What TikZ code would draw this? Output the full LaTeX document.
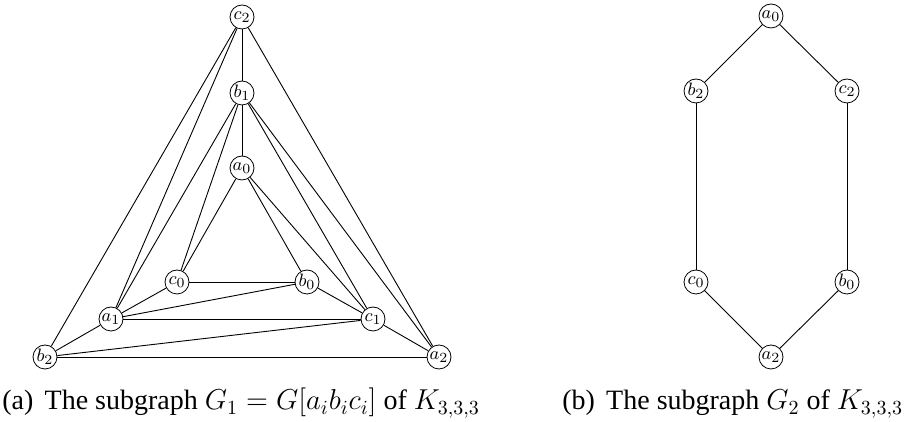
\documentclass[tikz,border=0pt]{standalone}
\usepackage{fontspec}
\setmainfont{Liberation Serif}
\usepackage{tikz}
\usetikzlibrary{positioning}

\begin{document}
\begin{tikzpicture}[x=0.5pt, y=0.5pt,
    vertex/.style={
        circle, draw=black, minimum size=12pt, inner sep=0pt,
        font=\fontsize{9.5}{11}\selectfont,
    },
    edge/.style={black, line width=0.45pt},
    subcap/.style={
        anchor=base west, inner sep=0pt,
        font=\fontsize{14}{17}\selectfont,
    },
]
\useasboundingbox (0, 0) rectangle (906, 422);

\def\mx{242}
\def\rx{771}

% ── (a) vertices ───────────────────────────────────────────────────────
\node[vertex] (c2) at (\mx, 405)     {$c_2$};
\node[vertex] (b1) at (\mx, 329)     {$b_1$};
\node[vertex] (a0) at (\mx, 254)     {$a_0$};
\node[vertex] (c0) at (\mx-65, 140)  {$c_0$};
\node[vertex] (b0) at (\mx+65, 140)  {$b_0$};
\node[vertex] (a1) at (\mx-131, 103) {$a_1$};
\node[vertex] (c1) at (\mx+131, 103) {$c_1$};
\node[vertex] (b2) at (\mx-197, 65)  {$b_2$};
\node[vertex] (a2) at (\mx+197, 65)  {$a_2$};

% ── (a) edges ──────────────────────────────────────────────────────────
\draw[edge] (c2) -- (b1);
\draw[edge] (c2) -- (b2);
\draw[edge] (c2) -- (a1);
\draw[edge] (c2) -- (a2);
\draw[edge] (b1) -- (a0);
\draw[edge] (b1) -- (a1);
\draw[edge] (b1) -- (c0);
\draw[edge] (b1) -- (c1);
\draw[edge] (b1) -- (a2);
\draw[edge] (a0) -- (c0);
\draw[edge] (a0) -- (b0);
\draw[edge] (a0) -- (c1);
\draw[edge] (c0) -- (b0);
\draw[edge] (c0) -- (a1);
\draw[edge] (b0) -- (a1);
\draw[edge] (b0) -- (c1);
\draw[edge] (a1) -- (c1);
\draw[edge] (a1) -- (b2);
\draw[edge] (c1) -- (b2);
\draw[edge] (c1) -- (a2);
\draw[edge] (b2) -- (a2);

% ── (b) vertices ───────────────────────────────────────────────────────
\node[vertex] (ra0) at (\rx, 406)    {$a_0$};
\node[vertex] (rb2) at (\rx-75, 331) {$b_2$};
\node[vertex] (rc2) at (\rx+76, 331) {$c_2$};
\node[vertex] (rc0) at (\rx-75, 140) {$c_0$};
\node[vertex] (rb0) at (\rx+76, 140) {$b_0$};
\node[vertex] (ra2) at (\rx, 65)     {$a_2$};

% ── (b) edges ──────────────────────────────────────────────────────────
\draw[edge] (ra0) -- (rb2);
\draw[edge] (ra0) -- (rc2);
\draw[edge] (rb2) -- (rc0);
\draw[edge] (rc2) -- (rb0);
\draw[edge] (rc0) -- (ra2);
\draw[edge] (rb0) -- (ra2);

% ── Captions ──────────────────────────────────────────────────────────
\node[subcap] (capa) at (2, 12)
    {(a)\hspace{0.4em}The subgraph $G_1 = G[a_ib_ic_i]$ of $K_{3,3,3}$};
\node[subcap] (capb) at (562, 12)
    {(b)\hspace{0.4em}The subgraph $G_2$ of $K_{3,3,3}$};

\end{tikzpicture}
\end{document}
